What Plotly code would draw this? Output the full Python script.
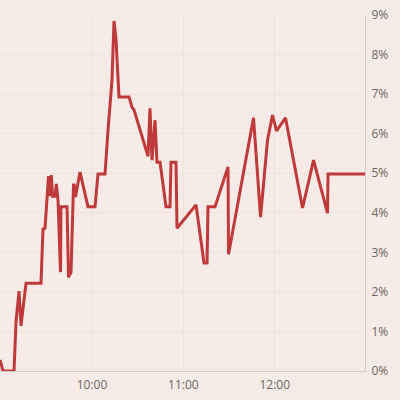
import plotly.graph_objects as go

day = "2024-01-02 "
times = ["08:59:34", "09:01:33", "09:08:46", "09:10:05", "09:12:03", "09:13:22", "09:16:39",
         "09:26:30", "09:27:49", "09:29:08", "09:31:27", "09:32:26", "09:33:17", "09:34:04",
         "09:35:42", "09:36:34", "09:37:40", "09:39:19", "09:39:38", "09:43:35", "09:44:34",
         "09:46:12", "09:47:52", "09:48:18", "09:49:10", "09:52:07", "09:57:22", "10:01:58",
         "10:03:56", "10:08:32", "10:10:31", "10:13:08", "10:14:27", "10:15:46", "10:17:44",
         "10:24:18", "10:26:16", "10:27:35", "10:36:47", "10:38:05", "10:39:25", "10:41:23",
         "10:42:41", "10:44:40", "10:48:36", "10:51:14", "10:51:53", "10:55:10", "10:55:50",
         "11:08:19", "11:13:34", "11:15:32", "11:16:11", "11:20:47", "11:29:20", "11:29:40",
         "11:46:05", "11:50:41", "11:55:17", "11:58:34", "12:01:11", "12:07:06", "12:18:16",
         "12:25:30", "12:34:41", "12:35:01", "12:59:18"]
values = [0.28, 0.0, 0.0, 1.24, 2.02, 1.14, 2.22,
          2.22, 3.59, 3.61, 4.93, 4.42, 4.95, 4.42,
          4.42, 4.73, 4.32, 2.50, 4.15, 4.15, 2.37,
          2.50, 4.70, 4.70, 4.40, 5.03, 4.15, 4.15,
          4.98, 4.98, 6.09, 7.36, 8.85, 8.37, 6.93,
          6.93, 6.67, 6.60, 5.43, 6.64, 5.33, 6.34,
          5.28, 5.28, 4.15, 4.15, 5.28, 5.28, 3.61,
          4.20, 2.73, 2.73, 4.15, 4.15, 5.16, 2.95,
          6.40, 3.89, 5.84, 6.47, 6.07, 6.40, 4.12,
          5.33, 3.99, 4.98, 4.98]
x_range = ["08:59:34", "12:59:18"]
y_ticks = [0, 1, 2, 3, 4, 5, 6, 7, 8, 9]
y_labels = ["0%", "1%", "2%", "3%", "4%", "5%", "6%", "7%", "8%", "9%"]

bg = "#f6ebe6"
fig = go.Figure(go.Scatter(
    x=[day + t for t in times], y=values, mode="lines",
    line=dict(color="#c0393b", width=3), hoverinfo="skip"))

fig.update_layout(
    width=400, height=400, margin=dict(l=0, r=35, t=15, b=29),
    paper_bgcolor=bg, plot_bgcolor=bg, showlegend=False,
    font=dict(family="Open Sans, Lato, sans-serif", size=12, color="#6b6663"),
)
fig.update_xaxes(
    range=[day + x_range[0], day + x_range[1]], tickformat="%H:%M", dtick=3600000,
    showgrid=True, gridcolor="#efe2d9", gridwidth=1, automargin=False,
    showline=True, linecolor="#d9c9c1", linewidth=1, ticks="", zeroline=False,
    ticklabelstandoff=3,
)
fig.update_yaxes(
    side="right", range=[0, 9], tickvals=y_ticks, ticktext=y_labels,
    showgrid=True, gridcolor="#efe2d9", gridwidth=1, automargin=False,
    showline=True, linecolor="#d9c9c1", linewidth=1, ticks="", zeroline=False,
    ticklabelstandoff=3,
)
fig.write_html("out.html", config={"displayModeBar": False},
               post_script="document.body.style.margin='0';document.body.style.background='%s';" % bg)
